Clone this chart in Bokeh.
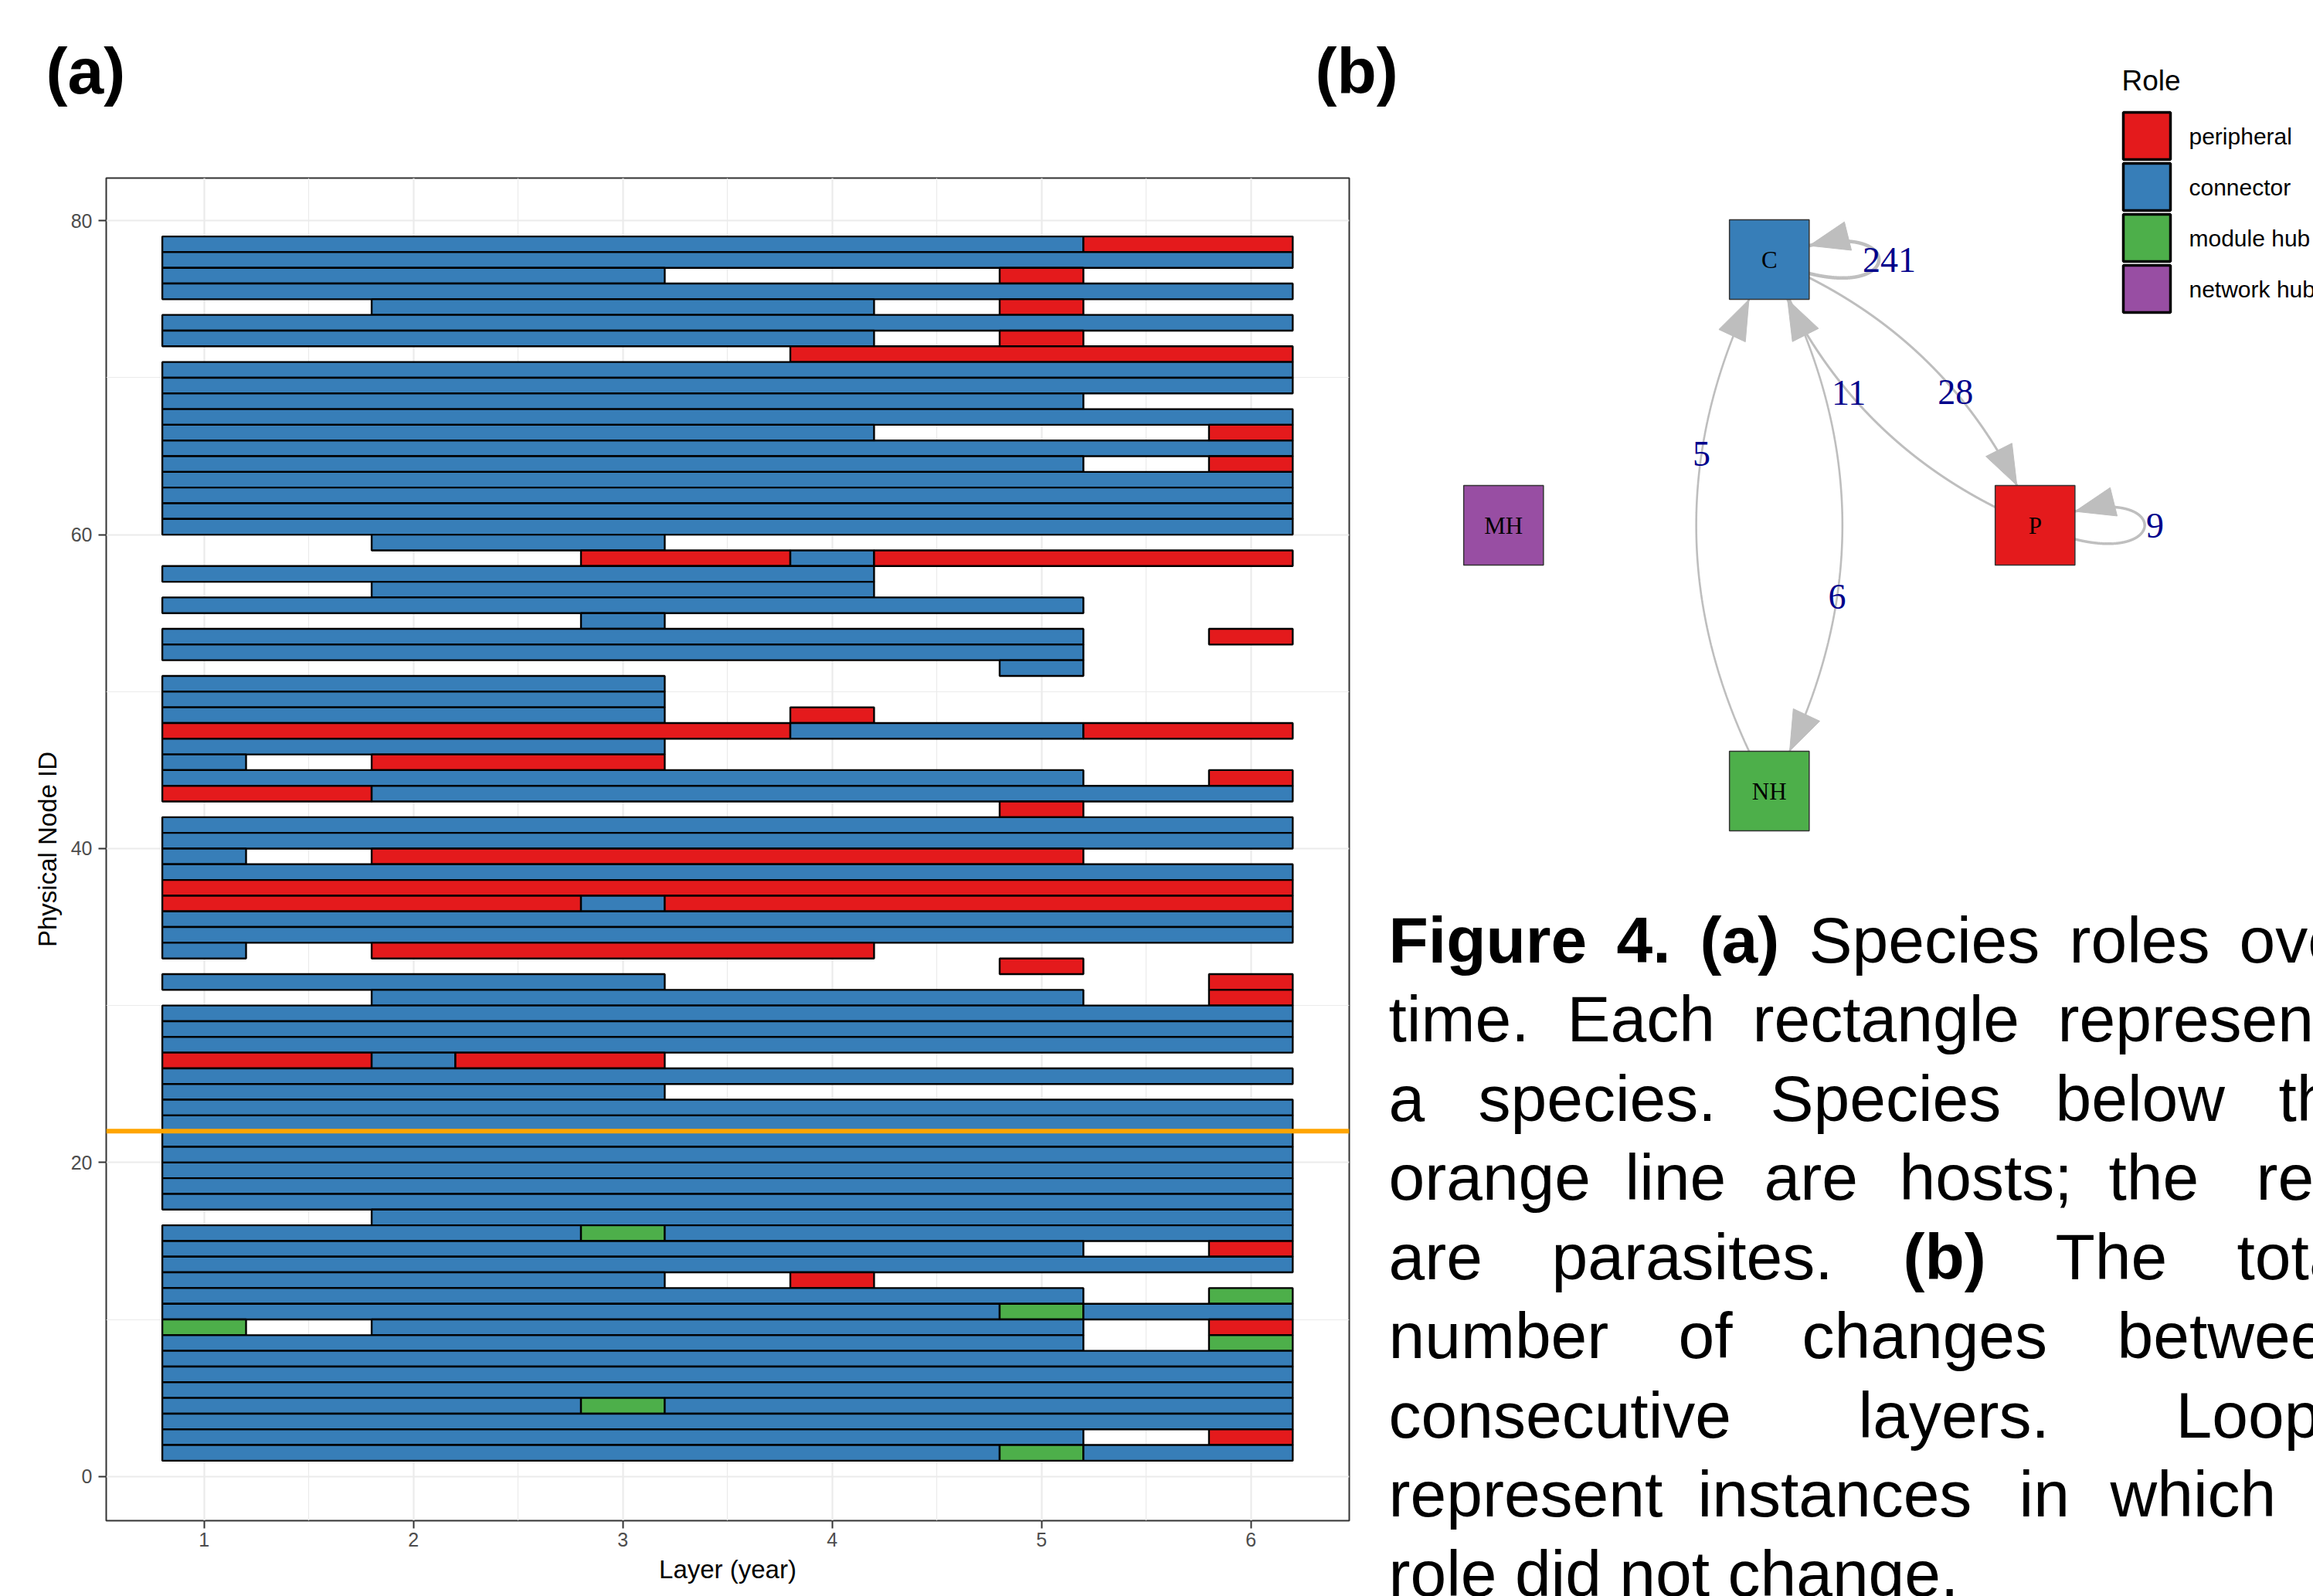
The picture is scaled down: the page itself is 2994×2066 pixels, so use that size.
import numpy as np
from bokeh.plotting import figure
from bokeh.models import Range1d, FixedTicker, Span, ColumnDataSource
from bokeh.layouts import row
from bokeh.core.properties import value
from bokeh.embed import file_html
from bokeh.resources import INLINE

# ---------------- panel (a) data ----------------
layer_ticks = [1, 2, 3, 4, 5, 6]
layer_minor = [1.5, 2.5, 3.5, 4.5, 5.5]
node_ticks = [0, 20, 40, 60, 80]
node_minor = [10, 30, 50, 70]
host_parasite_boundary = 22

# one line per physical node (top to bottom); P=peripheral C=connector M=module hub
seg_node = [
    78, 78,
    77,
    76, 76,
    75,
    74, 74,
    73,
    72, 72,
    71,
    70,
    69,
    68,
    67,
    66, 66,
    65,
    64, 64,
    63,
    62,
    61,
    60,
    59,
    58, 58, 58,
    57,
    56,
    55,
    54,
    53, 53,
    52,
    51,
    50,
    49,
    48, 48,
    47, 47, 47,
    46,
    45, 45,
    44, 44,
    43, 43,
    42,
    41,
    40,
    39, 39,
    38,
    37,
    36, 36, 36,
    35,
    34,
    33, 33,
    32,
    31, 31,
    30, 30,
    29,
    28,
    27,
    26, 26, 26,
    25,
    24,
    23,
    22,
    21,
    20,
    19,
    18,
    17,
    16,
    15, 15, 15,
    14, 14,
    13,
    12, 12,
    11, 11,
    10, 10, 10,
    9, 9, 9,
    8, 8,
    7,
    6,
    5,
    4, 4, 4,
    3,
    2, 2,
    1, 1, 1,
]
seg_start = [
    0.8, 5.2,
    0.8,
    0.8, 4.8,
    0.8,
    1.8, 4.8,
    0.8,
    0.8, 4.8,
    3.8,
    0.8,
    0.8,
    0.8,
    0.8,
    0.8, 5.8,
    0.8,
    0.8, 5.8,
    0.8,
    0.8,
    0.8,
    0.8,
    1.8,
    2.8, 3.8, 4.2,
    0.8,
    1.8,
    0.8,
    2.8,
    0.8, 5.8,
    0.8,
    4.8,
    0.8,
    0.8,
    0.8, 3.8,
    0.8, 3.8, 5.2,
    0.8,
    0.8, 1.8,
    0.8, 5.8,
    0.8, 1.8,
    4.8,
    0.8,
    0.8,
    0.8, 1.8,
    0.8,
    0.8,
    0.8, 2.8, 3.2,
    0.8,
    0.8,
    0.8, 1.8,
    4.8,
    0.8, 5.8,
    1.8, 5.8,
    0.8,
    0.8,
    0.8,
    0.8, 1.8, 2.2,
    0.8,
    0.8,
    0.8,
    0.8,
    0.8,
    0.8,
    0.8,
    0.8,
    0.8,
    1.8,
    0.8, 2.8, 3.2,
    0.8, 5.8,
    0.8,
    0.8, 3.8,
    0.8, 5.8,
    0.8, 4.8, 5.2,
    0.8, 1.8, 5.8,
    0.8, 5.8,
    0.8,
    0.8,
    0.8,
    0.8, 2.8, 3.2,
    0.8,
    0.8, 5.8,
    0.8, 4.8, 5.2,
]
seg_end = [
    5.2, 6.2,
    6.2,
    3.2, 5.2,
    6.2,
    4.2, 5.2,
    6.2,
    4.2, 5.2,
    6.2,
    6.2,
    6.2,
    5.2,
    6.2,
    4.2, 6.2,
    6.2,
    5.2, 6.2,
    6.2,
    6.2,
    6.2,
    6.2,
    3.2,
    3.8, 4.2, 6.2,
    4.2,
    4.2,
    5.2,
    3.2,
    5.2, 6.2,
    5.2,
    5.2,
    3.2,
    3.2,
    3.2, 4.2,
    3.8, 5.2, 6.2,
    3.2,
    1.2, 3.2,
    5.2, 6.2,
    1.8, 6.2,
    5.2,
    6.2,
    6.2,
    1.2, 5.2,
    6.2,
    6.2,
    2.8, 3.2, 6.2,
    6.2,
    6.2,
    1.2, 4.2,
    5.2,
    3.2, 6.2,
    5.2, 6.2,
    6.2,
    6.2,
    6.2,
    1.8, 2.2, 3.2,
    6.2,
    3.2,
    6.2,
    6.2,
    6.2,
    6.2,
    6.2,
    6.2,
    6.2,
    6.2,
    2.8, 3.2, 6.2,
    5.2, 6.2,
    6.2,
    3.2, 4.2,
    5.2, 6.2,
    4.8, 5.2, 6.2,
    1.2, 5.2, 6.2,
    5.2, 6.2,
    6.2,
    6.2,
    6.2,
    2.8, 3.2, 6.2,
    6.2,
    5.2, 6.2,
    4.8, 5.2, 6.2,
]
seg_role = [
    "C", "P",
    "C",
    "C", "P",
    "C",
    "C", "P",
    "C",
    "C", "P",
    "P",
    "C",
    "C",
    "C",
    "C",
    "C", "P",
    "C",
    "C", "P",
    "C",
    "C",
    "C",
    "C",
    "C",
    "P", "C", "P",
    "C",
    "C",
    "C",
    "C",
    "C", "P",
    "C",
    "C",
    "C",
    "C",
    "C", "P",
    "P", "C", "P",
    "C",
    "C", "P",
    "C", "P",
    "P", "C",
    "P",
    "C",
    "C",
    "C", "P",
    "C",
    "P",
    "P", "C", "P",
    "C",
    "C",
    "C", "P",
    "P",
    "C", "P",
    "C", "P",
    "C",
    "C",
    "C",
    "P", "C", "P",
    "C",
    "C",
    "C",
    "C",
    "C",
    "C",
    "C",
    "C",
    "C",
    "C",
    "C", "M", "C",
    "C", "P",
    "C",
    "C", "P",
    "C", "M",
    "C", "M", "C",
    "M", "C", "P",
    "C", "M",
    "C",
    "C",
    "C",
    "C", "M", "C",
    "C",
    "C", "P",
    "C", "M", "C",
]

role_codes = ["P", "C", "M", "N"]
role_names = ["peripheral", "connector", "module hub", "network hub"]
role_colors = ["#E41A1C", "#377EB8", "#4DAF4A", "#984EA3"]

# ---------------- panel (b) data ----------------
net_nodes = ["C", "P", "MH", "NH"]
net_node_role = ["connector", "peripheral", "network hub", "module hub"]
edge_source = ["C", "C", "P", "C", "NH", "P"]
edge_target = ["C", "P", "C", "NH", "C", "P"]
edge_count = [241, 28, 11, 6, 5, 9]

# graph layout (diamond) and drawing styles
layout_x = [0.0, 1.0, -1.0, 0.0]
layout_y = [1.0, 0.0, 0.0, -1.0]
edge_curve = [0.0, 0.42, 0.42, 0.55, 0.55, 0.0]
edge_width = [4.5, 3.0, 3.0, 2.6, 2.6, 3.5]
edge_label_t = [0.0, 0.6, 0.6, 0.635, 0.635, 0.0]

# caption (justified lines, word left edges in page pixels)
cap_word = ["Figure", "4.", "(a)", "Species", "roles", "over",
            "time.", "Each", "rectangle", "represents",
            "a", "species.", "Species", "below", "the",
            "orange", "line", "are", "hosts;", "the", "rest",
            "are", "parasites.", "(b)", "The", "total",
            "number", "of", "changes", "between",
            "consecutive", "layers.", "Loops",
            "represent", "instances", "in", "which",
            "role did not change."]
cap_line = [0] * 6 + [1] * 4 + [2] * 5 + [3] * 6 + [4] * 5 + [5] * 4 + [6] * 3 + [7] * 4 + [8]
cap_bold = [1, 1, 1, 0, 0, 0,
            0, 0, 0, 0,
            0, 0, 0, 0, 0,
            0, 0, 0, 0, 0, 0,
            0, 0, 1, 0, 0,
            0, 0, 0, 0,
            0, 0, 0,
            0, 0, 0, 0,
            0]
cap_x = [1797, 2092, 2200, 2341, 2678, 2898,
         1797, 2028, 2268, 2663,
         1797, 1913, 2291, 2660, 2949,
         1797, 2103, 2283, 2458, 2729, 2920,
         1797, 2008, 2463, 2660, 2895,
         1797, 2172, 2332, 2740,
         1797, 2405, 2816,
         1797, 2197, 2613, 2731,
         1797]
cap_baseline = [1216, 1318.5, 1421, 1523.5, 1626, 1728.5, 1831, 1933.5, 2036]

# panel tags
tag_text = ["(a)", "(b)"]
tag_x = [59, 1702]
tag_baseline = 91

FONT = "Liberation Sans"
SERIF = "Liberation Serif"
code_to_color = dict(zip(role_codes, role_colors))
name_to_color = dict(zip(role_names, role_colors))

# =============== panel (a) ===============
src_a = ColumnDataSource(dict(
    left=seg_start, right=seg_end,
    bottom=seg_node, top=[n + 1 for n in seg_node],
    color=[code_to_color[r] for r in seg_role]))

p1 = figure(width=1760, height=2066, title=None,
            x_range=Range1d(0.532, 6.47), y_range=Range1d(-2.82, 82.72),
            output_backend="svg", toolbar_location=None,
            min_border_left=137, min_border_right=14,
            min_border_top=230, min_border_bottom=98)
p1.frame_align = False
p1.quad(source=src_a, left="left", right="right", bottom="bottom", top="top",
        fill_color="color", line_color="black", line_width=2.4)
p1.add_layout(Span(location=host_parasite_boundary, dimension="width",
                   line_color="#FFA500", line_width=6))

p1.xaxis.ticker = FixedTicker(ticks=layer_ticks, minor_ticks=layer_minor)
p1.yaxis.ticker = FixedTicker(ticks=node_ticks, minor_ticks=node_minor)
p1.xaxis.axis_label = "Layer (year)"
p1.yaxis.axis_label = "Physical Node ID"
for ax in (p1.xaxis[0], p1.yaxis[0]):
    ax.axis_line_color = None
    ax.major_tick_line_color = "#333333"
    ax.major_tick_line_width = 2
    ax.major_tick_out = 10
    ax.major_tick_in = 0
    ax.minor_tick_line_color = None
    ax.major_label_text_font = FONT
    ax.major_label_text_font_size = "25px"
    ax.major_label_text_color = "#4D4D4D"
    ax.axis_label_text_font = FONT
    ax.axis_label_text_font_size = "33px"
    ax.axis_label_text_font_style = "normal"
    ax.axis_label_text_color = "black"
p1.xaxis.major_label_standoff = 5
p1.yaxis.major_label_standoff = 8
p1.xaxis.axis_label_standoff = 8
p1.yaxis.axis_label_standoff = 9
for g in (p1.xgrid[0], p1.ygrid[0]):
    g.grid_line_color = "#EBEBEB"
    g.grid_line_width = 2.2
    g.minor_grid_line_color = "#EBEBEB"
    g.minor_grid_line_width = 1.2
p1.outline_line_color = "#333333"
p1.outline_line_width = 2
p1.background_fill_color = "white"
p1.border_fill_color = "white"

# =============== transparent full-page overlay: panel (b), caption, tags ===============
unit = 344.0
ox, oy = 2289.75, 679.5   # page pixel of the graph-layout origin


def gx(X):
    return (X - ox) / unit


def gy(Y):
    return (oy - Y) / unit


p2 = figure(width=2994, height=2066, title=None,
            x_range=Range1d(gx(0), gx(2994)), y_range=Range1d(gy(2066), gy(0)),
            output_backend="svg", toolbar_location=None, min_border=0,
            x_axis_type=None, y_axis_type=None)
p2.frame_align = False
p2.outline_line_color = None
p2.background_fill_color = None
p2.border_fill_color = None
p2.margin = (0, 0, 0, -1760)

pos = {n: np.array([x, y], dtype=float) for n, x, y in zip(net_nodes, layout_x, layout_y)}
half = 0.15
alen, awid = 0.15, 0.11
loop_dx, loop_a = 0.55, 0.24
ts = np.linspace(0.0, 1.0, 4001)

line_xs, line_ys, line_w = [], [], []
head_xs, head_ys = [], []
lab_x, lab_y, lab_t = [], [], []
for s, t, cnt, cv, w, tl in zip(edge_source, edge_target, edge_count, edge_curve,
                                edge_width, edge_label_t):
    P0, P3 = pos[s], pos[t]
    T = ts[:, None]
    if s == t:
        c1 = P0 + np.array([loop_dx, -loop_a])
        c2 = P0 + np.array([loop_dx, loop_a])
        B = (1 - T) ** 3 * P0 + 3 * (1 - T) ** 2 * T * c1 + 3 * (1 - T) * T ** 2 * c2 + T ** 3 * P0
        D = 3 * (1 - T) ** 2 * (c1 - P0) + 6 * (1 - T) * T * (c2 - c1) + 3 * T ** 2 * (P0 - c2)
        lx, ly = P0[0] + 0.82 * loop_dx, P0[1]
    else:
        d = P3 - P0
        L = np.hypot(d[0], d[1])
        perp = np.array([-d[1], d[0]]) / L
        C = (P0 + P3) / 2 + cv * L / 2 * perp
        B = (1 - T) ** 2 * P0 + 2 * T * (1 - T) * C + T ** 2 * P3
        D = 2 * (1 - T) * (C - P0) + 2 * T * (P3 - C)
        lp = (1 - tl) ** 2 * P0 + 2 * tl * (1 - tl) * C + tl ** 2 * P3
        lx, ly = lp[0], lp[1]
    outside = (np.abs(B[:, 0] - P3[0]) > half) | (np.abs(B[:, 1] - P3[1]) > half)
    k = int(np.nonzero(outside)[0].max())
    tip = B[k]
    u = D[k] / np.hypot(D[k][0], D[k][1])
    nv = np.array([-u[1], u[0]])
    base = tip - u * alen
    a1 = base + nv * awid / 2
    a2 = base - nv * awid / 2
    line_xs.append(list(B[:k + 1, 0]))
    line_ys.append(list(B[:k + 1, 1]))
    line_w.append(w)
    head_xs.append([tip[0], a1[0], a2[0]])
    head_ys.append([tip[1], a1[1], a2[1]])
    lab_x.append(lx)
    lab_y.append(ly)
    lab_t.append(str(cnt))

EDGE_COL = "#BEBEBE"
p2.multi_line(xs="xs", ys="ys", line_width="w", line_color=EDGE_COL,
              source=ColumnDataSource(dict(xs=line_xs, ys=line_ys, w=line_w)))
p2.patches(xs=head_xs, ys=head_ys, fill_color=EDGE_COL, line_color=EDGE_COL, line_width=1)

p2.rect(x=layout_x, y=layout_y, width=2 * half, height=2 * half,
        fill_color=[name_to_color[r] for r in net_node_role],
        line_color="#333333", line_width=1.5)
p2.text(x=layout_x, y=layout_y, text=net_nodes, text_font=value(SERIF),
        text_font_size="31px", text_align="center", text_baseline="middle",
        text_color="black")
p2.text(x=lab_x, y=lab_y, text=lab_t, text_font=value(SERIF),
        text_font_size="46px", text_align="center", text_baseline="middle",
        text_color="#00008B")

# legend "Role" (keys drawn as squares, labels as text)
key_left, key_top, key_size, key_pitch = 2748, 145, 61, 66
key_cy = [key_top + key_size / 2 + key_pitch * i for i in range(len(role_names))]
p2.rect(x=[gx(key_left + key_size / 2)] * len(role_names), y=[gy(v) for v in key_cy],
        width=key_size / unit, height=key_size / unit,
        fill_color=role_colors, line_color="black", line_width=3.5)
p2.text(x=[gx(key_left + key_size + 24)] * len(role_names), y=[gy(v) for v in key_cy],
        text=role_names, text_font=value(FONT), text_font_size="30px",
        text_align="left", text_baseline="middle", text_color="black")
p2.text(x=[gx(key_left - 2)], y=[gy(104)], text=["Role"], text_font=value(FONT),
        text_font_size="37px", text_align="left", text_baseline="middle",
        text_color="black")

# panel tags (a), (b)
p2.text(x=[gx(v) for v in tag_x], y=[gy(tag_baseline)] * len(tag_x), text=tag_text,
        text_font=value(FONT), text_font_size="84px", text_font_style="bold",
        text_baseline="alphabetic", text_align="left", text_color="black")

# caption
for bold in (0, 1):
    idx = [i for i, b in enumerate(cap_bold) if b == bold]
    p2.text(x=[gx(cap_x[i]) for i in idx],
            y=[gy(cap_baseline[cap_line[i]]) for i in idx],
            text=[cap_word[i] for i in idx],
            text_font=value(FONT), text_font_size="84px",
            text_font_style="bold" if bold else "normal",
            text_baseline="alphabetic", text_align="left", text_color="black")

layout = row(p1, p2)
open("out.html", "w").write(file_html(layout, INLINE))
